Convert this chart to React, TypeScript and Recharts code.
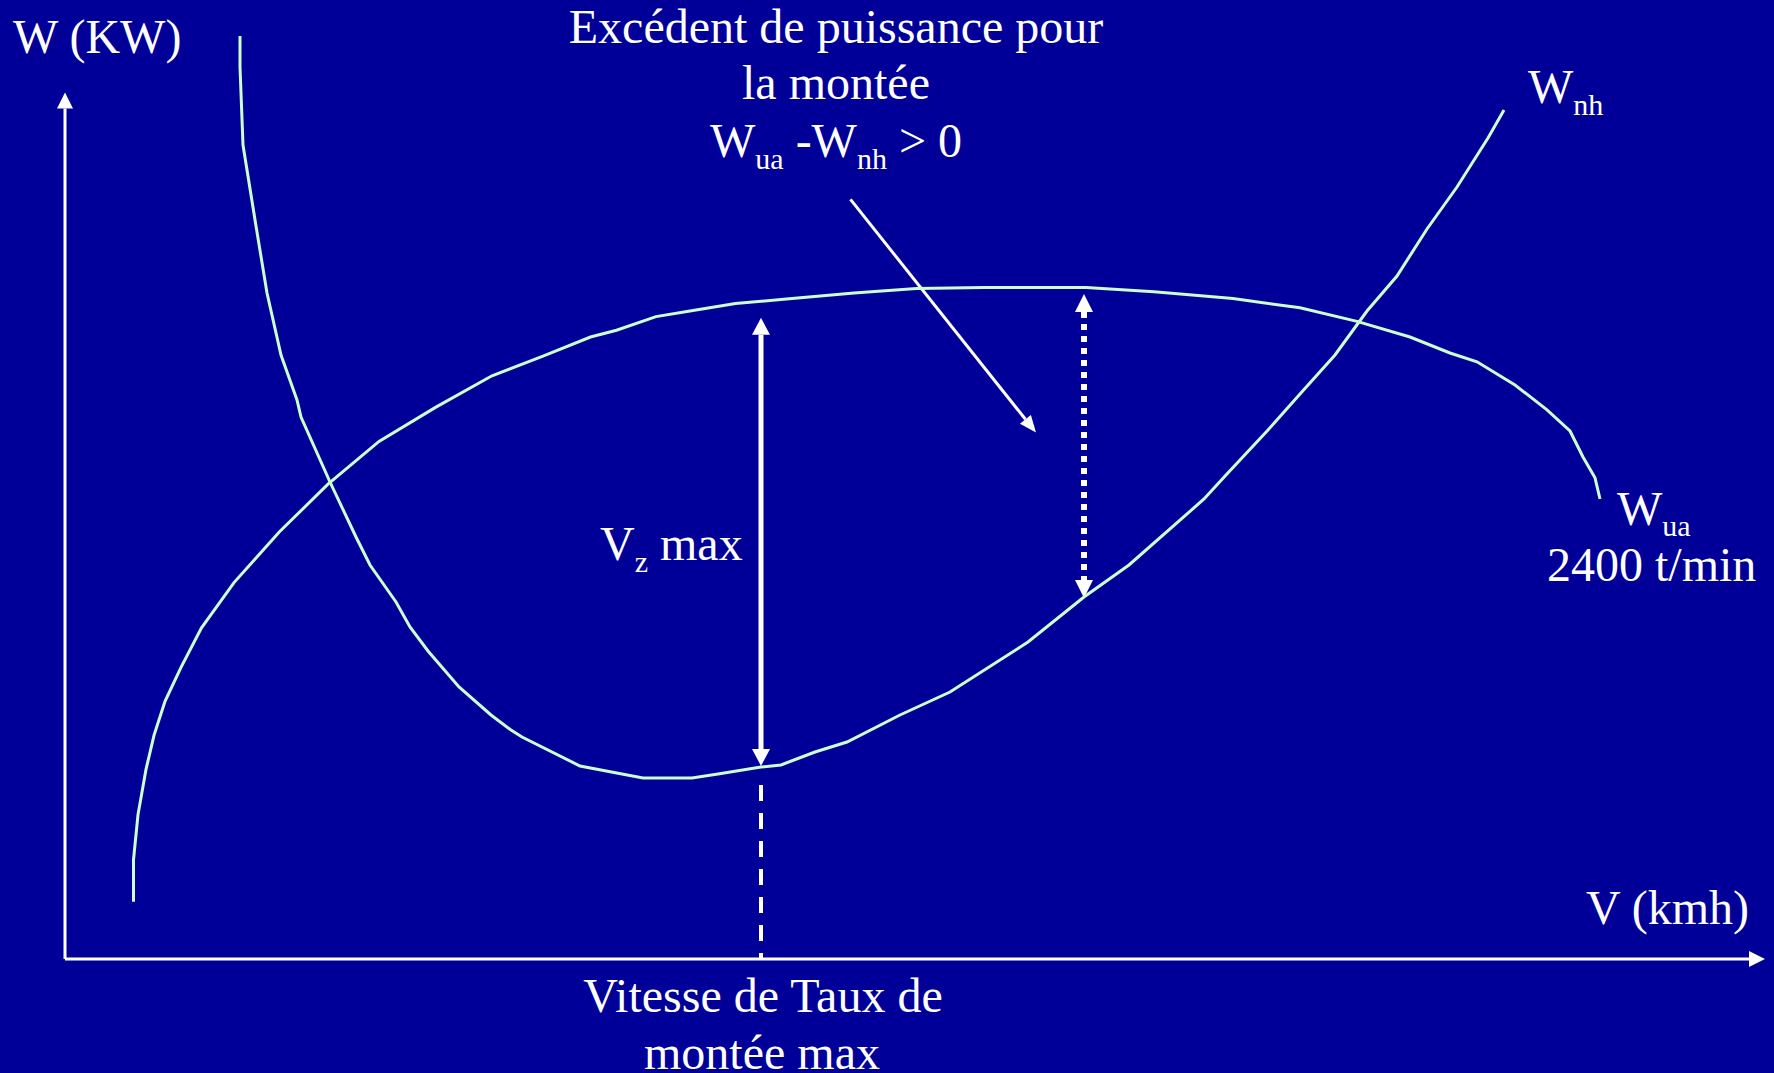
import React from "react";
import { LineChart, Line, XAxis, YAxis, ReferenceLine } from "recharts";

// speed in km/h-ish units, power in kW-ish units (the chart has no ticks)
const wuaSpeed = [
  13.7, 13.7, 14.6, 16.2, 17.8, 20.0, 23.2, 27.3, 33.8, 42.9, 52.6, 62.8, 74.1,
  85.4, 95.6, 105.1, 110.3, 118.2, 125.0, 134.1, 145.4, 157.8, 170.3, 183.9,
  204.2, 217.8, 233.6, 247.0, 258.4, 269.0, 277.0, 282.4, 290.0, 296.4, 301.0,
  303.6, 306.0, 307.0,
];
const wuaPower = [
  14.3, 24.8, 36.1, 47.4, 55.9, 64.4, 72.9, 82.8, 94.1, 106.8, 118.7, 129.4,
  137.9, 145.8, 150.7, 155.5, 157.2, 160.6, 162.0, 163.9, 165.1, 166.5, 167.6,
  167.9, 167.9, 166.8, 165.1, 162.8, 159.4, 155.5, 151.5, 149.3, 143.5, 137.3,
  132.0, 125.5, 120.3, 115.0,
];

const wnhSpeed = [
  35.0, 35.0, 35.6, 38.2, 40.4, 43.2, 46.4, 47.2, 53.0, 58.2, 61.0, 66.2, 69.0,
  72.6, 78.8, 85.2, 89.2, 91.4, 103.0, 115.6, 125.4, 130.6, 139.2, 143.2, 150.0,
  156.4, 167.0, 177.0, 192.6, 203.8, 212.8, 227.8, 232.2, 240.6, 247.0, 254.0,
  260.4, 266.4, 272.4, 278.4, 284.6, 287.8,
];
const wnhPower = [
  230.75, 223.0, 203.5, 183.25, 166.5, 151.0, 139.75, 135.5, 119.25, 105.5,
  98.5, 89.25, 83.0, 77.0, 68.0, 61.0, 57.25, 55.5, 48.25, 45.25, 45.25, 46.25,
  48.0, 48.5, 51.75, 54.25, 61.0, 66.75, 79.25, 90.5, 98.5, 115.0, 121.0,
  132.25, 141.25, 151.0, 162.0, 170.75, 182.5, 193.0, 205.25, 212.25,
];

// annotation anchors, same units as the curves
const axisEnd = { speed: 340, power: 216.6 };
const vzMax = { speed: 139.2, top: 160.3, bottom: 48.25, dashFrom: 43.5 };
const excess = { speed: 203.8, top: 166.25, bottom: 90.25 };
const pointer = { fromSpeed: 157.1, fromPower: 189.9, toSpeed: 194.2, toPower: 131.6 };

const wua = wuaSpeed.map((x, i) => ({ x, y: wuaPower[i] }));
const wnh = wnhSpeed.map((x, i) => ({ x, y: wnhPower[i] }));

const BG = "#000099";
const CURVE = "#CCFFCC";
const W = 1774;
const H = 1073;
const FONT = '"Liberation Serif", "Times New Roman", serif';

type ArrowOpts = { width: number; len: number; half: number; dash?: string; both?: boolean };

// line with a filled head at the end (or both ends)
const arrow = (o: ArrowOpts) => (p: any) => {
  const { x1, y1, x2, y2 } = p;
  const dx = x2 - x1;
  const dy = y2 - y1;
  const d = Math.hypot(dx, dy) || 1;
  const ux = dx / d;
  const uy = dy / d;
  const nx = -uy;
  const ny = ux;
  const head = (tx: number, ty: number, sx: number, sy: number) => {
    const bx = tx - sx * o.len;
    const by = ty - sy * o.len;
    return `${tx},${ty} ${bx + nx * o.half},${by + ny * o.half} ${bx - nx * o.half},${by - ny * o.half}`;
  };
  const sx = o.both ? x1 + ux * o.len : x1;
  const sy = o.both ? y1 + uy * o.len : y1;
  return (
    <g>
      <line
        x1={sx}
        y1={sy}
        x2={x2 - ux * o.len}
        y2={y2 - uy * o.len}
        stroke="#fff"
        strokeWidth={o.width}
        strokeDasharray={o.dash}
      />
      <polygon points={head(x2, y2, ux, uy)} fill="#fff" />
      {o.both && <polygon points={head(x1, y1, -ux, -uy)} fill="#fff" />}
    </g>
  );
};

const Labels = () => (
  <svg
    width={W}
    height={H}
    style={{ position: "absolute", left: 0, top: 0, pointerEvents: "none" }}
    fontFamily={FONT}
    fill="#fff"
    fontSize={48}
  >
    <text x={13} y={53}>W (KW)</text>

    <text x={836} y={43} textAnchor="middle">Excédent de puissance pour</text>
    <text x={836} y={99} textAnchor="middle">la montée</text>
    <text x={836} y={157} textAnchor="middle">
      <tspan>W</tspan>
      <tspan fontSize={30} dy={12}>ua</tspan>
      <tspan dy={-12}>{" -W"}</tspan>
      <tspan fontSize={30} dy={12}>nh</tspan>
      <tspan dy={-12}>{" > 0"}</tspan>
    </text>

    <text x={1528} y={103}>
      <tspan>W</tspan>
      <tspan fontSize={30} dy={12}>nh</tspan>
    </text>

    <text x={1617} y={525}>
      <tspan>W</tspan>
      <tspan fontSize={30} dy={11}>ua</tspan>
    </text>
    <text x={1547} y={581}>2400 t/min</text>

    <text x={600} y={560}>
      <tspan>V</tspan>
      <tspan fontSize={30} dy={12}>z</tspan>
      <tspan dy={-12}>{" max"}</tspan>
    </text>

    <text x={1586} y={924}>V (kmh)</text>

    <text x={763} y={1012} textAnchor="middle">Vitesse de Taux de</text>
    <text x={762} y={1069} textAnchor="middle">montée max</text>
  </svg>
);

export default function App() {
  return (
    <div style={{ position: "absolute", left: 0, top: 0, width: W, height: H, background: BG }}>
      <LineChart width={W} height={H} margin={{ top: 27, right: 9, bottom: 114, left: 65 }}>
        <XAxis type="number" dataKey="x" domain={[0, 340]} allowDataOverflow hide />
        <YAxis type="number" dataKey="y" domain={[0, 233]} allowDataOverflow hide />

        {/* axes with arrow tips */}
        <ReferenceLine
          ifOverflow="visible"
          segment={[{ x: 0, y: 0 }, { x: axisEnd.speed, y: 0 }]}
          shape={arrow({ width: 3, len: 16, half: 8 })}
        />
        <ReferenceLine
          ifOverflow="visible"
          segment={[{ x: 0, y: 0 }, { x: 0, y: axisEnd.power }]}
          shape={arrow({ width: 3, len: 16, half: 8 })}
        />

        {/* max climb speed */}
        <ReferenceLine
          ifOverflow="visible"
          segment={[{ x: vzMax.speed, y: vzMax.dashFrom }, { x: vzMax.speed, y: 0 }]}
          stroke="#fff"
          strokeWidth={4}
          strokeDasharray="16 12"
        />
        <ReferenceLine
          ifOverflow="visible"
          segment={[{ x: vzMax.speed, y: vzMax.bottom }, { x: vzMax.speed, y: vzMax.top }]}
          shape={arrow({ width: 5, len: 17, half: 9, both: true })}
        />

        {/* power excess */}
        <ReferenceLine
          ifOverflow="visible"
          segment={[{ x: excess.speed, y: excess.top }, { x: excess.speed, y: excess.bottom }]}
          shape={arrow({ width: 6, len: 18, half: 9, dash: "6 6", both: true })}
        />
        <ReferenceLine
          ifOverflow="visible"
          segment={[
            { x: pointer.fromSpeed, y: pointer.fromPower },
            { x: pointer.toSpeed, y: pointer.toPower },
          ]}
          shape={arrow({ width: 3, len: 17, half: 7 })}
        />

        <Line
          data={wua}
          dataKey="y"
          type="linear"
          stroke={CURVE}
          strokeWidth={3}
          dot={false}
          activeDot={false}
          isAnimationActive={false}
        />
        <Line
          data={wnh}
          dataKey="y"
          type="linear"
          stroke={CURVE}
          strokeWidth={3}
          dot={false}
          activeDot={false}
          isAnimationActive={false}
        />
      </LineChart>
      <Labels />
    </div>
  );
}
